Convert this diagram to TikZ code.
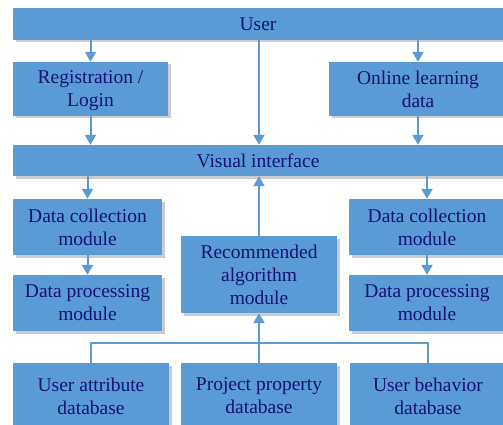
\documentclass[tikz,border=0pt]{standalone}
\usepackage{fontspec}
\setmainfont{Liberation Serif}
\usetikzlibrary{arrows.meta,shadows}
\definecolor{boxblue}{RGB}{91,155,213}
\definecolor{textnavy}{RGB}{20,20,115}
\tikzset{
    >={Triangle[width=11pt,length=10pt]},
    block/.style={rectangle, fill=boxblue, text=textnavy, align=center, inner sep=0pt,
        font=\fontsize{19.5}{23}\selectfont,
        drop shadow={shadow xshift=2.5pt, shadow yshift=-2.5pt, fill=black, opacity=0.2}},
    link/.style={draw=boxblue, line width=2pt}
}

\begin{document}
\begin{tikzpicture}[x=1pt, y=-1pt]
    \useasboundingbox (0,0) rectangle (503,425);

    \node[block, minimum width=490pt, minimum height=32pt] (user) at (258,24) {User};

    \node[block, minimum width=155pt, minimum height=54pt] (reg) at (90.5,89) {Registration /\\\smash{Login}};
    \node[block, minimum width=178pt, minimum height=54pt] (online) at (418,89) {Online learning\\data};

    \node[block, minimum width=490pt, minimum height=31pt] (vis) at (258,160.5) {Visual interface};

    \node[block, minimum width=149pt, minimum height=56pt] (colL) at (87.5,227) {Data collection\\module};
    \node[block, minimum width=156pt, minimum height=56pt] (colR) at (427,227) {Data collection\\module};
    \node[block, minimum width=149pt, minimum height=56pt] (procL) at (87.5,303) {Data processing\\module};
    \node[block, minimum width=156pt, minimum height=56pt] (procR) at (427,303) {Data processing\\module};

    \node[block, minimum width=156pt, minimum height=77pt] (algo) at (259,274.5) {Recommended\\algorithm\\module};

    \node[block, minimum width=156pt, minimum height=66pt] (dbUser) at (91,396) {User attribute\\database};
    \node[block, minimum width=156pt, minimum height=66pt] (dbProj) at (259,396) {Project property\\database};
    \node[block, minimum width=156pt, minimum height=66pt] (dbBeh) at (428,396) {User behavior\\database};

    \coordinate (bus) at (259,343);

    % user to second row
    \draw[link,->] (user.south -| reg.north) -- (reg.north);
    \draw[link,->] (user.south -| online.north) -- (online.north);
    \draw[link,->] (user.south -| algo.north) -- (vis.north -| algo.north);
    \draw[link,->] (reg.south) -- (vis.north -| reg.south);
    \draw[link,->] (online.south) -- (vis.north -| online.south);

    % interface to modules
    \draw[link,->] (vis.south -| colL.north) -- (colL.north);
    \draw[link,->] (vis.south -| colR.north) -- (colR.north);
    \draw[link,->] (colL.south) -- (procL.north);
    \draw[link,->] (colR.south) -- (procR.north);
    \draw[link,->] (algo.north) -- (vis.south -| algo.north);

    % databases
    \draw[link] (dbUser.north) |- (bus) -| (dbBeh.north);
    \draw[link,->] (dbProj.north) -- (algo.south);
\end{tikzpicture}
\end{document}
